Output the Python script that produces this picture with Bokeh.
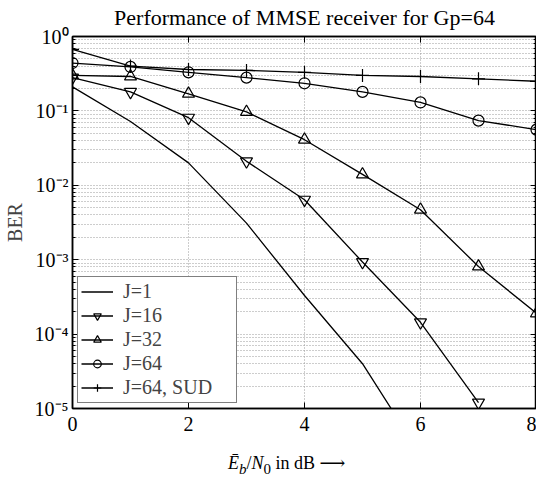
from bokeh.plotting import figure
from bokeh.models import (FixedTicker, LogAxis, LinearAxis, CustomJSTickFormatter,
                          Legend, LegendItem, Range1d, Div)
from bokeh.layouts import column
from bokeh.embed import file_html
from bokeh.resources import INLINE

# ---------------- data ----------------
snr_db = [0, 1, 2, 3, 4, 5, 6, 7, 8]
snr_j1 = [0, 1, 2, 3, 4, 5, 6]
ber_j1 = [0.21, 0.072, 0.020, 3.1e-3, 3.3e-4, 4.0e-5, 2.4e-6]
snr_j16 = [0, 1, 2, 3, 4, 5, 6, 7]
ber_j16 = [0.28, 0.18, 0.081, 0.021, 6.4e-3, 9.3e-4, 1.44e-4, 1.2e-5]
ber_j32 = [0.30, 0.29, 0.17, 0.097, 0.041, 0.014, 4.7e-3, 8.1e-4, 1.9e-4]
ber_j64 = [0.44, 0.39, 0.33, 0.28, 0.235, 0.18, 0.13, 0.074, 0.056]
ber_sud = [0.67, 0.40, 0.36, 0.35, 0.33, 0.30, 0.29, 0.27, 0.25]

legend_labels = ["J=1", "J=16", "J=32", "J=64", "J=64, SUD"]
title_text = "Performance of MMSE receiver for Gp=64"
y_label = "BER"
x_label_html = ("<i>&#274;</i><sub><i>b</i></sub>/<i>N</i><sub>0</sub>"
                " in dB <span style=\"font-family:'DejaVu Serif'\">&#10230;</span>")
x_ticks = [0, 2, 4, 6, 8]
y_ticks = [1e-5, 1e-4, 1e-3, 1e-2, 1e-1, 1e0]
y_minor = [m * 10.0 ** k for k in range(-5, 0) for m in range(2, 10)]

FONT = "Liberation Serif"

p = figure(width=536, height=449, y_axis_type="log",
           x_range=Range1d(0, 8), y_range=Range1d(1e-5, 1),
           output_backend="svg", toolbar_location=None,
           min_border_left=63, min_border_right=0,
           min_border_top=35, min_border_bottom=41)

p.title.text = title_text
p.title.text_font = FONT
p.title.text_font_size = "22px"
p.title.text_font_style = "normal"
p.title.align = "center"
p.title.text_color = "black"
p.title.vertical_align = "top"
p.title.standoff = 9

p.outline_line_color = "black"
p.outline_line_width = 1.5

# grids
grid_col = "#9a9a9a"
p.xgrid.ticker = FixedTicker(ticks=x_ticks)
p.xgrid.grid_line_color = grid_col
p.xgrid.grid_line_dash = "1 2"
p.xgrid.grid_line_width = 1
p.ygrid.ticker = FixedTicker(ticks=y_ticks, minor_ticks=y_minor)
p.ygrid.grid_line_color = grid_col
p.ygrid.grid_line_dash = "1 2"
p.ygrid.minor_grid_line_color = grid_col
p.ygrid.minor_grid_line_dash = "1 2"

sup_js = """
const e = Math.round(Math.log10(tick));
const sup = {"-":"\u207b","0":"\u2070","1":"\u00b9","2":"\u00b2","3":"\u00b3","4":"\u2074",
             "5":"\u2075","6":"\u2076","7":"\u2077","8":"\u2078","9":"\u2079"};
return "10" + String(e).split("").map(c => sup[c]).join("");
"""
blank_js = "return '';"

def style_axis(ax, size="20px"):
    ax.axis_line_color = "black"
    ax.axis_line_width = 1.5
    ax.major_tick_line_color = "black"
    ax.minor_tick_line_color = "black"
    ax.major_tick_in = 6
    ax.major_tick_out = 0
    ax.minor_tick_in = 3
    ax.minor_tick_out = 0
    ax.major_label_text_font = FONT
    ax.major_label_text_color = "black"
    ax.major_label_text_font_size = size

xax = p.xaxis[0]
xax.ticker = FixedTicker(ticks=x_ticks, minor_ticks=[])
style_axis(xax)
xax.major_label_standoff = 8

yax = p.yaxis[0]
yax.ticker = FixedTicker(ticks=y_ticks, minor_ticks=y_minor)
yax.formatter = CustomJSTickFormatter(code=sup_js)
style_axis(yax)
yax.major_label_standoff = 4
yax.axis_label = y_label
yax.axis_label_text_font = FONT
yax.axis_label_text_font_size = "20px"
yax.axis_label_text_font_style = "normal"
yax.axis_label_standoff = 6

rax = LogAxis(ticker=FixedTicker(ticks=y_ticks, minor_ticks=y_minor),
              formatter=CustomJSTickFormatter(code=blank_js))
style_axis(rax, "1px")
rax.major_label_standoff = 0
p.add_layout(rax, "right")
tax = LinearAxis(ticker=FixedTicker(ticks=x_ticks, minor_ticks=[]),
                 formatter=CustomJSTickFormatter(code=blank_js))
style_axis(tax, "1px")
tax.major_label_standoff = 0
p.add_layout(tax, "above")

# series
lw = 1.3
r1 = p.line(snr_j1, ber_j1, line_color="black", line_width=lw)
r16l = p.line(snr_j16, ber_j16, line_color="black", line_width=lw)
r16m = p.scatter(snr_j16, ber_j16, marker="inverted_triangle", size=12,
                 fill_color=None, line_color="black", line_width=1.2)
r32l = p.line(snr_db, ber_j32, line_color="black", line_width=lw)
r32m = p.scatter(snr_db, ber_j32, marker="triangle", size=12,
                 fill_color=None, line_color="black", line_width=1.2)
r64l = p.line(snr_db, ber_j64, line_color="black", line_width=lw)
r64m = p.scatter(snr_db, ber_j64, marker="circle", size=11,
                 fill_color=None, line_color="black", line_width=1.2)
rsl = p.line(snr_db, ber_sud, line_color="black", line_width=lw)
rsm = p.scatter(snr_db, ber_sud, marker="cross", size=13,
                line_color="black", line_width=1.2)

items = [
    LegendItem(label=legend_labels[0], renderers=[r1]),
    LegendItem(label=legend_labels[1], renderers=[r16l, r16m]),
    LegendItem(label=legend_labels[2], renderers=[r32l, r32m]),
    LegendItem(label=legend_labels[3], renderers=[r64l, r64m]),
    LegendItem(label=legend_labels[4], renderers=[rsl, rsm]),
]
legend = Legend(items=items, location="bottom_left", margin=5, padding=3,
                spacing=1, label_height=19, glyph_height=19, glyph_width=32,
                label_standoff=10, label_width=110,
                label_text_font=FONT, label_text_font_size="20px",
                border_line_color="black", border_line_width=1.2,
                background_fill_color="white", background_fill_alpha=1)
p.add_layout(legend)

# x axis label (mixed italic / subscripts) as HTML text below the plot
xdiv = Div(text=('<div style="font-family:\'Liberation Serif\',serif; font-size:18px; '
                 'color:black; text-align:left; padding-left:228px; padding-top:5px; '
                 'line-height:18px; white-space:nowrap;">' + x_label_html + '</div>'),
           width=536, height=16, margin=(0, 0, 0, 0))

layout = column(p, xdiv, spacing=0)
open("out.html", "w", encoding="utf-8").write(file_html(layout, INLINE))
